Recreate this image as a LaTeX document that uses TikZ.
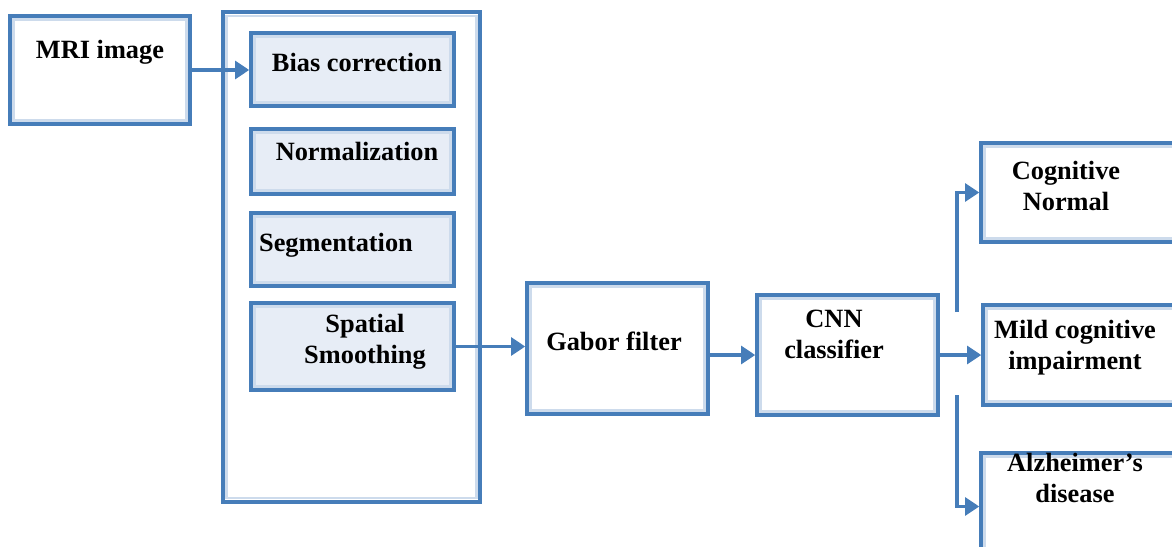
\documentclass[tikz,border=0pt]{standalone}
\usepackage{fontspec}
\setmainfont{Liberation Serif}
\usetikzlibrary{arrows.meta}
\definecolor{boxblue}{RGB}{70,125,185}
\definecolor{boxfill}{RGB}{231,237,246}
\definecolor{bevel}{RGB}{205,219,236}

\begin{document}
\begin{tikzpicture}[x=0.02cm,y=-0.02cm,
    box/.style={draw=boxblue,line width=2pt,inner sep=0pt,
      path picture={\draw[bevel,line width=1.6pt]
        ([shift={(2.2pt,-2.2pt)}]path picture bounding box.north west) rectangle
        ([shift={(-2.2pt,2.2pt)}]path picture bounding box.south east);}},
    stepbox/.style={box,fill=boxfill},
    txt/.style={font=\fontsize{15}{17.6}\selectfont\bfseries,align=center},
    link/.style={draw=boxblue,line width=2.2pt,-{Triangle[length=8pt,width=10pt]}}]
          \useasboundingbox (0,0) rectangle (1172,547);
          \node[box,minimum width=3.6cm,minimum height=2.16cm] (mri) at (100,70) {};
          \node[box,minimum width=5.14cm,minimum height=9.8cm] (prep) at (351.5,257) {};
          \node[stepbox,minimum width=4.06cm,minimum height=1.46cm] (bias) at (352.5,69.5) {};
          \node[stepbox,minimum width=4.06cm,minimum height=1.3cm] (norm) at (352.5,161.5) {};
          \node[stepbox,minimum width=4.06cm,minimum height=1.46cm] (seg) at (352.5,249.5) {};
          \node[stepbox,minimum width=4.06cm,minimum height=1.74cm] (smooth) at (352.5,346.5) {};
          \node[box,minimum width=3.62cm,minimum height=2.62cm] (gabor) at (617.5,348.5) {};
          \node[box,minimum width=3.62cm,minimum height=2.4cm] (cnn) at (847.5,355) {};
          \node[box,minimum width=3.98cm,minimum height=1.98cm] (cn) at (1080.5,192.5) {};
          \node[box,minimum width=3.94cm,minimum height=2.0cm] (mci) at (1081.5,355) {};
          \node[box,minimum width=3.98cm,minimum height=2.14cm] (ad) at (1080.5,506.5) {};
          \node[txt] (mritxt) at (100,52) {MRI image};
          \node[txt] (biastxt) at (357,62) {Bias correction};
          \node[txt] (normtxt) at (357,151) {Normalization};
          \node[txt] (segtxt) at (336,245) {Segmentation};
          \node[txt] (smoothtxt) at (365,342) {Spatial\\Smoothing};
          \node[txt] (gabortxt) at (614,341) {Gabor filter};
          \node[txt] (cnntxt) at (834,334) {CNN\\classifier};
          \node[txt] (cntxt) at (1066,186) {Cognitive\\Normal};
          \node[txt] (mcitxt) at (1075,348) {Mild cognitive\\impairment};
          \node[txt] (adtxt) at (1075,478) {Alzheimer’s\\disease};
          \coordinate (up) at (957,312);
          \coordinate (down) at (957,395);
          \draw[link] (mri.east) -- (mri.east -| bias.west);
          \draw[link] (smooth.east) -- (smooth.east -| gabor.west);
          \draw[link] (gabor.east |- cnn) -- (cnn.west);
          \draw[link] (cnn.east) -- (mci.west);
          \draw[link] (up) |- (cn.west);
          \draw[link] (down) |- (ad.west);
        \end{tikzpicture}
\end{document}
